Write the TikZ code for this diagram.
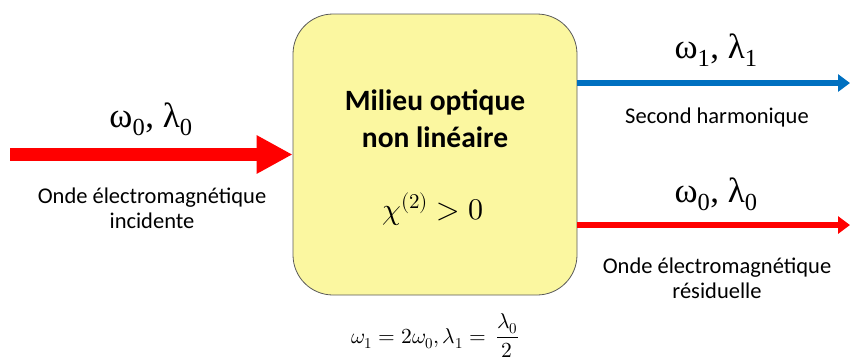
\documentclass[tikz,border=0pt]{standalone}
\usepackage{unicode-math}
\setmainfont{Carlito}
\setmathfont{Latin Modern Math}
\newfontfamily\grk{Liberation Serif}
\usetikzlibrary{arrows.meta}
\definecolor{boxfill}{HTML}{FBF7A0}
\definecolor{boxline}{HTML}{5A5A5A}
\definecolor{wblue}{HTML}{0070C0}
\definecolor{wred}{HTML}{FF0000}
\tikzset{
  medium/.style={draw=boxline, line width=0.8pt, fill=boxfill, rounded corners=40pt,
    minimum width=284pt, minimum height=281pt, inner sep=0pt},
  thickwave/.style={draw=wred, line width=13pt, -{Triangle[length=36pt,width=36pt]}},
  thinwave/.style={line width=5.5pt, -{Triangle[length=12pt,width=17pt]}},
  greek/.style={font=\grk\fontsize{35}{40}\selectfont, anchor=base, inner sep=0pt},
  caption/.style={font=\fontsize{22.5}{25}\selectfont, align=center, anchor=base, inner sep=0pt},
}
\begin{document}
\begin{tikzpicture}[x=1pt,y=-1pt]
\useasboundingbox (0,0) rectangle (850,362);
\node[medium] (milieu) at (435,154.5) {};
\node[font=\bfseries\fontsize{29.5}{37}\selectfont, align=center, anchor=base, inner sep=0pt] (title) at (435,147) {Milieu optique\\non linéaire};
\node[font=\fontsize{30}{34}\selectfont, anchor=base, inner sep=0pt] (chi) at (433,219) {$\chi^{(2)} > 0$};
% incident wave
\coordinate (inStart) at (10,154.5);
\draw[thickwave] (inStart) -- (milieu.west);
\node[greek] (inLab) at (151,127) {ω\textsubscript{0}, λ\textsubscript{0}};
\node[caption] (inCap) at (152,228) {Onde électromagnétique\\incidente};
% second harmonic
\coordinate (shEnd) at (850,83);
\draw[thinwave, draw=wblue, fill=wblue] (shEnd -| milieu.east) -- (shEnd);
\node[greek] (shLab) at (716,58) {ω\textsubscript{1}, λ\textsubscript{1}};
\node[caption] (shCap) at (717,123) {Second harmonique};
% residual wave
\coordinate (resEnd) at (850,225);
\draw[thinwave, draw=wred, fill=wred] (resEnd -| milieu.east) -- (resEnd);
\node[greek] (resLab) at (716,202) {ω\textsubscript{0}, λ\textsubscript{0}};
\node[caption] (resCap) at (717,298) {Onde électromagnétique\\résiduelle};
% relation
\node[font=\fontsize{21.5}{24}\selectfont, anchor=base, inner sep=0pt] (rel) at (435,343) {$\omega_1 = 2\omega_0, \lambda_1 = \,\dfrac{\lambda_0}{2}$};
\end{tikzpicture}
\end{document}
